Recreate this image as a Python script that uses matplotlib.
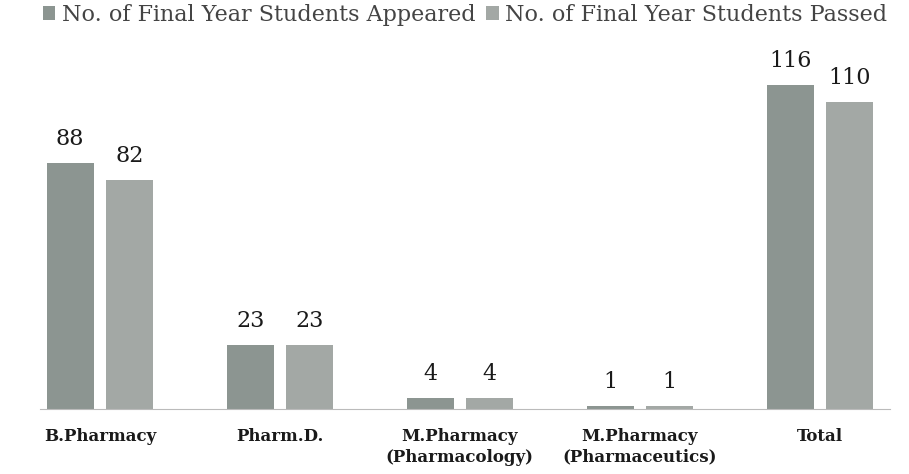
import matplotlib.pyplot as plt
import numpy as np

plt.rcParams['font.family'] = ['DejaVu Serif']

categories = ['B.Pharmacy', 'Pharm.D.', 'M.Pharmacy\n(Pharmacology)',
              'M.Pharmacy\n(Pharmaceutics)', 'Total']
appeared = [88, 23, 4, 1, 116]
passed = [82, 23, 4, 1, 110]
series_names = ['No. of Final Year Students Appeared',
                'No. of Final Year Students Passed']

fig = plt.figure(figsize=(9.09, 4.74), dpi=100)
ax = fig.add_axes([40 / 909, 1 - 409 / 474, 850 / 909, 349 / 474])

x = np.arange(len(categories))
w = 0.26
off = 0.165
b1 = ax.bar(x - off, appeared, w, color='#8c9591', label=series_names[0])
b2 = ax.bar(x + off, passed, w, color='#a3a8a5', label=series_names[1])

for bars in (b1, b2):
    for r in bars:
        ax.annotate(str(int(r.get_height())),
                    (r.get_x() + r.get_width() / 2, r.get_height()),
                    xytext=(0, 13), textcoords='offset points',
                    ha='center', va='baseline', fontsize=16, color='#1a1a1a')

ax.set_xlim(-0.333, 4.39)
ax.set_ylim(0, 125)
ax.set_yticks([])
ax.set_xticks(x)
ax.set_xticklabels(categories, fontsize=12, fontweight='bold',
                   color='#1a1a1a', linespacing=1.25)
ax.tick_params(axis='x', length=0, pad=14)
for s in ('top', 'right', 'left'):
    ax.spines[s].set_visible(False)
ax.spines['bottom'].set_color('#bbbbbb')
ax.spines['bottom'].set_linewidth(0.8)

fig.legend(handles=[b1, b2], loc='center', bbox_to_anchor=(465 / 909, 1 - 15 / 474),
           ncol=2, frameon=False, fontsize=16.0, handlelength=0.55,
           handleheight=0.55, handletextpad=0.3, columnspacing=0.5,
           labelcolor='#444444', borderpad=0)

fig.savefig('out.png', dpi=100)
